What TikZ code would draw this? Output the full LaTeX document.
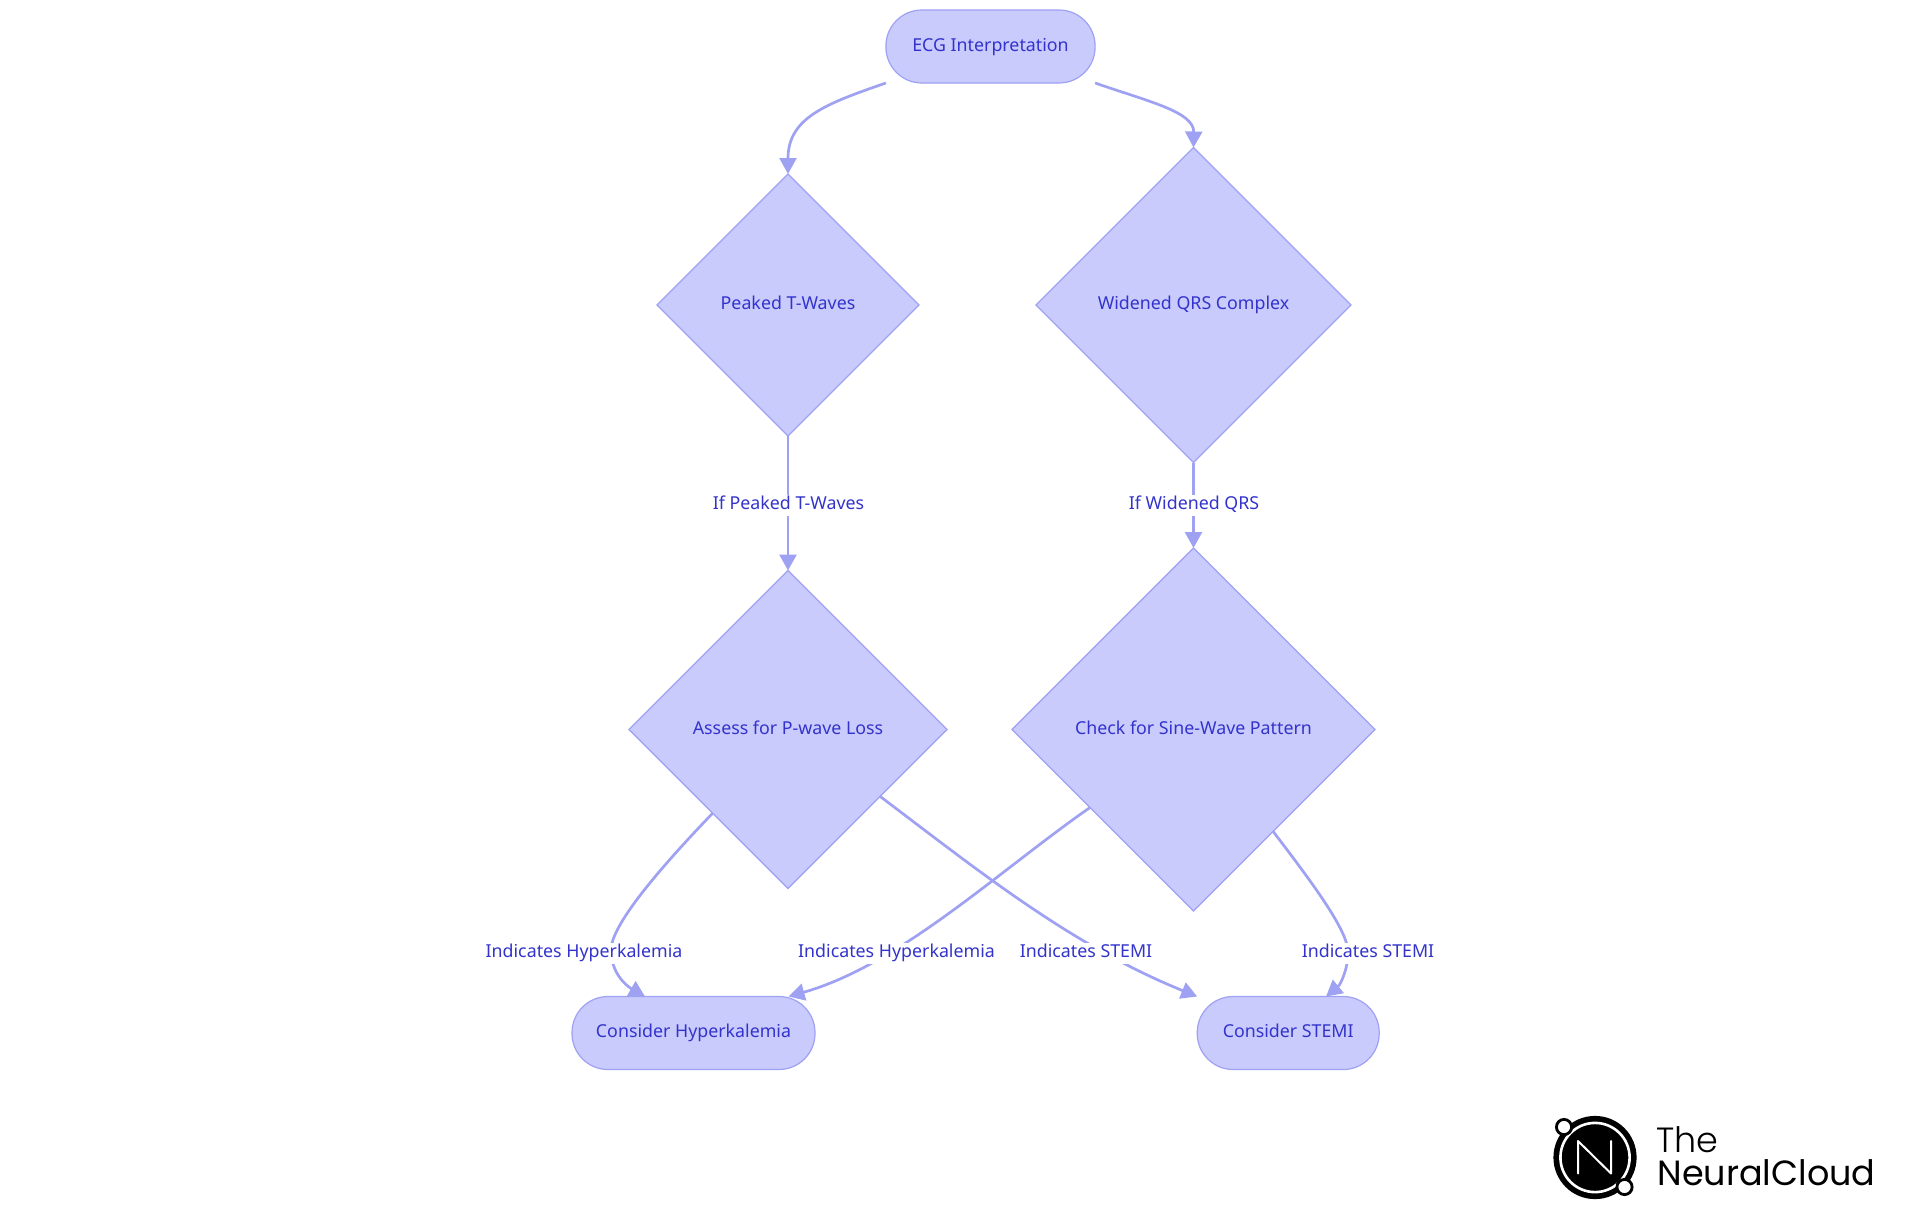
\documentclass[tikz,border=0pt]{standalone}
\usepackage{fontspec}
\setmainfont{Noto Sans}
\newfontfamily\logothin{Poppins Light}
\newfontfamily\logoreg{Poppins}
\usetikzlibrary{shapes.geometric,arrows.meta}
\definecolor{nfill}{HTML}{C9CBFD}
\definecolor{nline}{HTML}{9FA1F3}
\definecolor{ntext}{HTML}{3333CC}
\tikzset{
  txt/.style={text=ntext,font=\fontsize{8.9}{11}\selectfont,text height=6.6pt,text depth=1.9pt},
  base/.style={txt,fill=nfill,draw=nline,line width=0.6pt,inner sep=0pt,outer sep=0pt},
  pill/.style={base,rectangle,rounded corners=18pt,minimum height=36.5pt},
  dia/.style={base,diamond,minimum width=#1,minimum height=#1},
  edge/.style={draw=nline,line width=1.35pt,-{Triangle[length=8pt,width=8.5pt]}},
  lab/.style={txt,fill=white,inner xsep=0pt,inner ysep=0pt,minimum height=10.5pt},
}
\begin{document}
\begin{tikzpicture}[x=0.5pt,y=-0.5pt]
\useasboundingbox (0,0) rectangle (1920,1215);
\node[pill,minimum width=104.6pt] (ecg) at (990.5,46.5) {ECG Interpretation};
\node[dia=131pt] (peaked) at (788,305) {Peaked T-Waves};
\node[dia=157.5pt] (wide) at (1193.5,305) {Widened QRS Complex};
\node[dia=159pt] (assess) at (788,729.5) {Assess for P-wave Loss};
\node[dia=181.5pt] (check) at (1193.5,729.5) {Check for Sine-Wave Pattern};
\node[pill,minimum width=121.5pt] (hyper) at (693.5,1033) {Consider Hyperkalemia};
\node[pill,minimum width=91pt] (stemi) at (1288.2,1033) {Consider STEMI};

\draw[edge] (ecg.south west) .. controls (825,104) and (788,118) .. (peaked.north);
\draw[edge] (ecg.south east) .. controls (1150,102) and (1194,112) .. (wide.north);
\draw[edge] (peaked.south) -- (assess.north);
\draw[edge] (wide.south) -- (check.north);
\draw[edge] (assess.228) .. controls (660,868) and (611,925) .. (611,950) .. controls (611,972) and (625,985) .. (hyper.143.8);
\draw[edge] (assess.-36.9) .. controls (975,868) and (1070,945) .. (stemi.north west);
\draw[edge] (check.217.1) .. controls (1000,870) and (900,965) .. (hyper.21.4);
\draw[edge] (check.-52.2) .. controls (1310,880) and (1348,930) .. (1348,952) .. controls (1348,970) and (1340,985) .. (stemi.44.6);

\node[lab] (l1) at (788.5,505) {If Peaked T-Waves};
\node[lab] (l2) at (1194,505) {If Widened QRS};
\node[lab] (l3) at (584,953) {Indicates Hyperkalemia};
\node[lab] (l4) at (896.5,953) {Indicates Hyperkalemia};
\node[lab] (l5) at (1086,953) {Indicates STEMI};
\node[lab] (l6) at (1368,953) {Indicates STEMI};

% logo
\fill[black] (1595,1157.5) circle[radius=20.8pt];
\draw[white,line width=1.3pt] (1595,1157.5) circle[radius=17.3pt];
\draw[white,line width=1pt,line join=round,line cap=round] (1578,1173.5) -- (1578,1141) -- (1611,1173.5) -- (1611,1141);
\draw[black,fill=white,line width=1.4pt] (1564,1127) circle[radius=3.8pt];
\draw[black,fill=white,line width=1.4pt] (1624.5,1187) circle[radius=3.8pt];
\node[anchor=base west,inner sep=0pt,font=\logothin\fontsize{17.5}{20}\selectfont] (logoa) at (1656,1152) {The};
\node[anchor=base west,inner sep=0pt,font=\logoreg\fontsize{17.5}{20}\selectfont] (logob) at (1657,1185) {NeuralCloud};
\end{tikzpicture}
\end{document}
